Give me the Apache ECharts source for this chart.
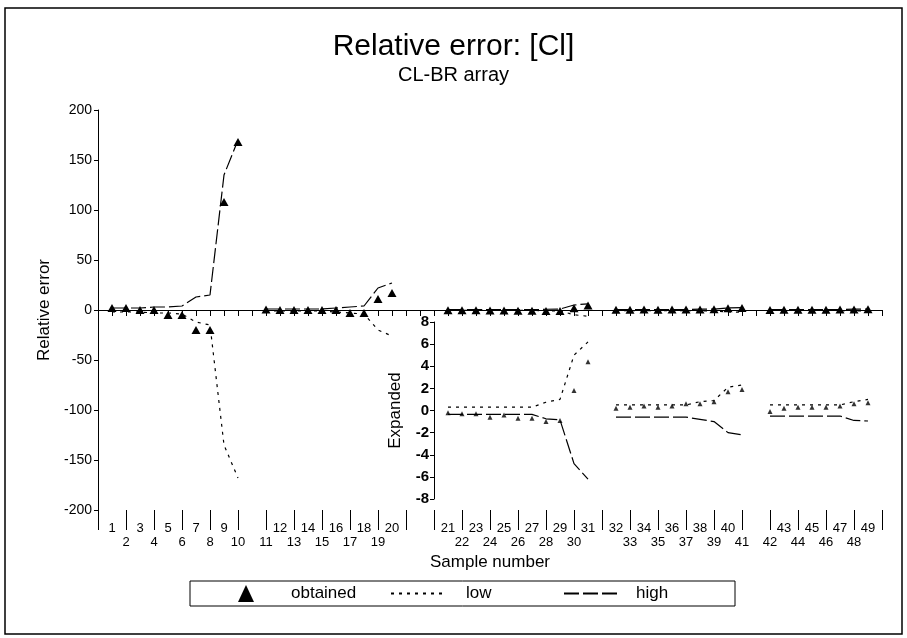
<!DOCTYPE html>
<html>
<head>
<meta charset="utf-8">
<script src="https://cdn.jsdelivr.net/npm/echarts@6/dist/echarts.min.js"></script>
<style>
  html, body { margin: 0; padding: 0; background: #fff; }
  #chart { width: 907px; height: 638px; }
</style>
</head>
<body>
<div id="chart"></div>
<script>
// Category slots along the x axis: empty strings are spacer slots between sample groups.
const sampleSlots = [
  '', '1', '2', '3', '4', '5', '6', '7', '8', '9', '10',
  '', '11', '12', '13', '14', '15', '16', '17', '18', '19', '20',
  '', '', '', '21', '22', '23', '24', '25', '26', '27', '28', '29', '30', '31',
  '', '32', '33', '34', '35', '36', '37', '38', '39', '40', '41',
  '', '42', '43', '44', '45', '46', '47', '48', '49', ''
];

// Sample groups (first and last sample of each run)
const groupRanges = [['1', '10'], ['11', '20'], ['21', '31'], ['32', '41'], ['42', '49']];

// Relative error of the obtained value, samples 1..49
const obtained = [
  2, 2, 0, 0, -5, -5, -20, -20, 108, 168,
  0.5, 0, 0, 0, 0, 0, -3, -3, 11, 17,
  -0.2, -0.3, -0.3, -0.6, -0.4, -0.7, -0.7, -1.0, -0.9, 1.8, 4.4,
  0.2, 0.3, 0.4, 0.3, 0.4, 0.6, 0.6, 0.8, 1.7, 1.9,
  -0.1, 0.2, 0.3, 0.3, 0.3, 0.4, 0.6, 0.7
];

// Lower limit, samples 1..49
const low = [
  -2, -2, -2, -3, -3, -4, -12, -15, -135, -168,
  -1, -1, -1, -1, -1, -2, -3, -4, -20, -26,
  -0.35, -0.35, -0.35, -0.35, -0.35, -0.35, -0.35, -0.75, -0.85, -4.8, -6.2,
  -0.6, -0.6, -0.6, -0.6, -0.6, -0.6, -0.8, -1.0, -2.0, -2.2,
  -0.5, -0.5, -0.5, -0.5, -0.5, -0.5, -0.9, -0.95
];

// Upper limit, samples 1..49
const high = [
  2, 2, 2, 3, 3, 4, 13, 15, 135, 170,
  1, 1, 1, 1, 1, 2, 3, 4, 22, 27,
  0.3, 0.3, 0.3, 0.3, 0.3, 0.3, 0.3, 0.75, 1.0, 5.0, 6.2,
  0.5, 0.5, 0.5, 0.5, 0.5, 0.5, 0.8, 0.9, 2.1, 2.3,
  0.5, 0.5, 0.5, 0.5, 0.5, 0.5, 0.8, 1.0
];

// The expanded panel starts at the spacer slot just before sample 21
const insetStart = sampleSlots.indexOf('21') - 1;
const insetSlots = sampleSlots.slice(insetStart);

function toSlots(slots, values) {
  return slots.map(s => (s === '' ? null : values[Number(s) - 1]));
}

const FONT = '"Liberation Sans", Arial, Helvetica, sans-serif';
const LOW_DASH = [3, 5];
const HIGH_DASH = [15, 4];

const chart = echarts.init(document.getElementById('chart'), null, { renderer: 'canvas' });

const legendText = (gap) => ({ fontFamily: FONT, fontSize: 17, color: '#000', padding: [0, 0, 0, gap] });

const option = {
  backgroundColor: '#fff',
  animation: false,
  textStyle: { fontFamily: FONT, color: '#000' },
  title: [
    { text: 'Relative error: [Cl]', left: 'center', top: 27,
      textStyle: { fontFamily: FONT, fontSize: 30, fontWeight: 'normal', color: '#000' } },
    { text: 'CL-BR array', left: 'center', top: 60,
      textStyle: { fontFamily: FONT, fontSize: 20, fontWeight: 'normal', color: '#000' } }
  ],
  legend: [
    { data: [{ name: 'obtained', icon: 'triangle' }], left: 238, top: 585, padding: 0,
      itemWidth: 16, itemHeight: 17, selectedMode: false, textStyle: legendText(32) },
    { data: ['low'], left: 390, top: 585, padding: 0, itemWidth: 55, itemHeight: 17,
      selectedMode: false, itemStyle: { opacity: 0 }, textStyle: legendText(15) },
    { data: ['high'], left: 563, top: 585, padding: 0, itemWidth: 55, itemHeight: 17,
      selectedMode: false, itemStyle: { opacity: 0 }, textStyle: legendText(12) }
  ],
  grid: [
    { left: 98, right: 25, top: 110, height: 400 },
    { left: 434, right: 25, top: 322, height: 177 }
  ],
  xAxis: [
    {
      gridIndex: 0, type: 'category', data: sampleSlots, boundaryGap: false,
      name: 'Sample number', nameLocation: 'middle', nameGap: 42,
      nameTextStyle: { fontFamily: FONT, fontSize: 17, color: '#000' },
      axisLine: { lineStyle: { color: '#000', width: 1 } },
      axisTick: { show: true, length: 6, interval: 0, lineStyle: { color: '#000' } },
      axisLabel: {
        interval: 0, hideOverlap: false, margin: 11, fontSize: 13, lineHeight: 14,
        color: '#000', fontFamily: FONT,
        formatter: (v, i) => (i % 2 === 0 ? '\n' + v : v)
      },
      splitLine: { show: false }
    },
    {
      // long ticks that separate the lower label row
      gridIndex: 0, type: 'category', data: sampleSlots, boundaryGap: false, position: 'bottom',
      axisLine: { show: false },
      axisTick: { show: true, length: 20, interval: (i) => i % 2 === 0, lineStyle: { color: '#000' } },
      axisLabel: { show: false },
      splitLine: { show: false }
    },
    {
      gridIndex: 1, type: 'category', data: insetSlots, boundaryGap: false,
      show: false
    }
  ],
  yAxis: [
    {
      gridIndex: 0, type: 'value', min: -200, max: 200, interval: 50,
      name: 'Relative error', nameLocation: 'middle', nameGap: 41,
      nameTextStyle: { fontFamily: FONT, fontSize: 17, color: '#000' },
      axisLine: { show: true, lineStyle: { color: '#000', width: 1 } },
      axisTick: { show: true, length: 4, lineStyle: { color: '#000' } },
      axisLabel: { fontSize: 14, color: '#000', fontFamily: FONT, margin: 6 },
      splitLine: { show: false }
    },
    {
      gridIndex: 1, type: 'value', min: -8, max: 8, interval: 2,
      name: 'Expanded', nameLocation: 'middle', nameGap: 30,
      nameTextStyle: { fontFamily: FONT, fontSize: 17, color: '#000' },
      axisLine: { show: true, lineStyle: { color: '#000', width: 1 } },
      axisTick: { show: true, length: 4, lineStyle: { color: '#000' } },
      axisLabel: { fontSize: 15, fontWeight: 'bold', color: '#000', fontFamily: FONT, margin: 5 },
      splitLine: { show: false }
    }
  ],
  series: [
    {
      name: 'low', type: 'line', xAxisIndex: 0, yAxisIndex: 0,
      data: toSlots(sampleSlots, low), symbol: 'none', showSymbol: false, connectNulls: false,
      lineStyle: { color: '#000', width: 1.2, type: LOW_DASH }, itemStyle: { color: '#000' }
    },
    {
      name: 'high', type: 'line', xAxisIndex: 0, yAxisIndex: 0,
      data: toSlots(sampleSlots, high), symbol: 'none', showSymbol: false, connectNulls: false,
      lineStyle: { color: '#000', width: 1.2, type: HIGH_DASH }, itemStyle: { color: '#000' },
      // zero reference along each sample group
      markLine: {
        silent: true, symbol: 'none', label: { show: false },
        lineStyle: { color: '#000', width: 1.2, type: HIGH_DASH },
        data: groupRanges.map(([a, b]) => [{ coord: [a, 0] }, { coord: [b, 0] }])
      }
    },
    {
      name: 'obtained', type: 'line', xAxisIndex: 0, yAxisIndex: 0,
      data: toSlots(sampleSlots, obtained),
      symbol: 'triangle', symbolSize: [9, 8],
      lineStyle: { width: 0, opacity: 0 }, itemStyle: { color: '#000' }, z: 5
    },
    // Expanded panel for samples 21..49
    {
      name: 'high (expanded)', type: 'line', xAxisIndex: 2, yAxisIndex: 1,
      data: toSlots(insetSlots, high), symbol: 'none', connectNulls: false,
      lineStyle: { color: '#000', width: 1.2, type: LOW_DASH }
    },
    {
      name: 'low (expanded)', type: 'line', xAxisIndex: 2, yAxisIndex: 1,
      data: toSlots(insetSlots, low), symbol: 'none', connectNulls: false,
      lineStyle: { color: '#000', width: 1.2, type: HIGH_DASH }
    },
    {
      name: 'obtained (expanded)', type: 'scatter', xAxisIndex: 2, yAxisIndex: 1,
      data: toSlots(insetSlots, obtained),
      symbol: 'triangle', symbolSize: [5, 5], itemStyle: { color: '#000' }, z: 5
    }
  ],
  graphic: [
    { type: 'rect', shape: { x: 5, y: 8, width: 897, height: 626 },
      style: { fill: null, stroke: '#000', lineWidth: 1.5 }, silent: true, z: -1 },
    { type: 'rect', shape: { x: 190, y: 581, width: 545, height: 25 },
      style: { fill: null, stroke: '#000', lineWidth: 1 }, silent: true }
  ]
};

chart.setOption(option);
</script>
</body>
</html>
